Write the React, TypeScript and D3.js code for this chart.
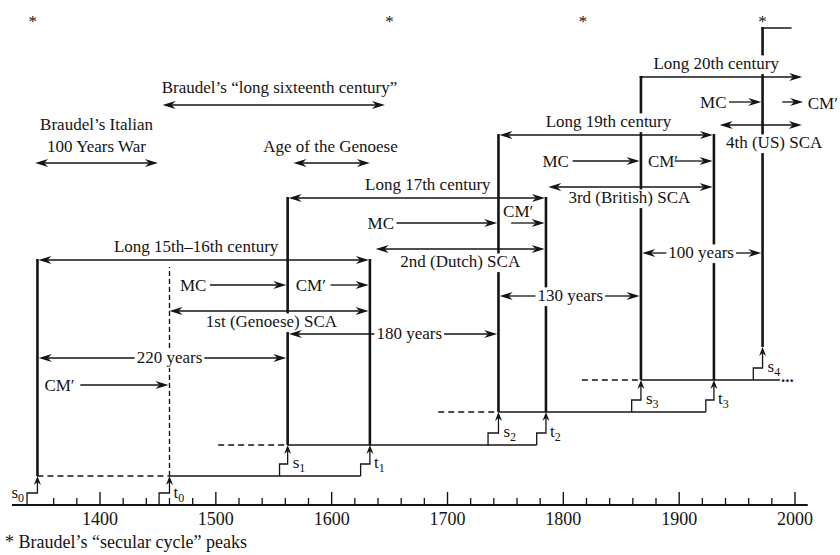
import React, { useEffect, useRef } from "react";
import * as d3 from "d3";

const FONT = "'Liberation Serif', 'Times New Roman', Times, serif";
const INK = "#141414";

// ---- axis ----
const majorTickYears = [1400, 1500, 1600, 1700, 1800, 1900, 2000];
const tickLabels = ["1400", "1500", "1600", "1700", "1800", "1900", "2000"];
const minorTickYears = [1360, 1380, 1420, 1440, 1460, 1480, 1520, 1540, 1560, 1580, 1620, 1640, 1660, 1680, 1720, 1740, 1760, 1780, 1820, 1840, 1860, 1880, 1920, 1940, 1960, 1980];
const axisExtent = [1324, 2011];

// ---- Braudel's secular cycle peaks ----
const starYears = [1342, 1650, 1817, 1972];

// ---- signal (s) and terminal (t) crises ----
const sYears = [1346, 1562, 1744, 1867, 1972];
const sStepStart = [1337, 1555, 1735, 1859, 1964];
const sIndex = ["0", "1", "2", "3", "4"];
const tYears = [1460, 1633, 1785, 1930];
const tStepStart = [1451, 1625, 1777, 1923];
const tIndex = ["0", "1", "2", "3"];
const levelHeights = [0, 29, 60, 93, 125, 158];
const sTops = [245, 307, 370, 428, 477];
const tTops = [238, 245, 307, 370];
const topRightEnd = 1997;

// ---- baselines of levels 1..4 ----
const dashedFrom = [1346, 1502, 1692, 1816];
const dashedTo = [1460, 1562, 1744, 1867];
const solidTo = [1625, 1777, 1923, 1987];

// ---- long centuries ----
const longLabels = ["Long 15th\u201316th century", "Long 17th century", "Long 19th century", "Long 20th century"];
const longFrom = [1346, 1562, 1744, 1867];
const longTo = [1633, 1785, 1930, 2007];
const longHeights = [245, 307, 370, 428];
const longTextAt = [1483, 1683, 1839, 1932];
const longLeftHead = [true, true, true, false];

// ---- MC / CM' phases ----
const mcTextAt = [1469, 1631, 1782, 1918];
const mcArrowFrom = [1495, 1656, 1808, 1943];
const mcArrowTo = [1562, 1744, 1867, 1972];
const phaseHeights = [220, 282, 344, 403];
const cmTextAt = [1569, 1748, 1873, 2011];
const cmTextHeights = [214, 288, 338, 396];
const cmArrowFrom = [1599, 1755, 1896, 1989];
const cmArrowTo = [1633, 1785, 1930, 2007];
const preCmTextAt = 1352;
const preCmArrow = [1383, 1460];
const preCmHeight = 120;

// ---- systemic cycles of accumulation ----
const scaLabels = ["1st (Genoese) SCA", "2nd (Dutch) SCA", "3rd (British) SCA", "4th (US) SCA"];
const scaFrom = [1460, 1638, 1787, 1935];
const scaTo = [1633, 1785, 1930, 2007];
const scaHeights = [194, 256, 318, 380];
const scaTextAt = [1548, 1711, 1857, 1982];
const scaTextHeights = [178, 238, 302, 357];

// ---- spans between signal crises ----
const spanLabels = ["220 years", "180 years", "130 years", "100 years"];
const spanHeights = [147, 171, 209, 252];
const spanTextAt = [1460, 1667, 1806, 1919];

// ---- Braudel's periods ----
const braudelLabels = [["Braudel\u2019s \u201clong sixteenth century\u201d"], ["Braudel\u2019s Italian", "100 Years War"], ["Age of the Genoese"]];
const braudelFrom = [1454, 1344, 1567];
const braudelTo = [1646, 1450, 1633];
const braudelHeights = [400, 342, 342];
const braudelTextAt = [1555, 1397, 1599];
const braudelTextHeights = [[412], [375, 353], [353]];

export default function App() {
  const ref = useRef<SVGSVGElement>(null);

  useEffect(() => {
    const el = ref.current;
    if (!el) return;
    const svg = d3.select(el);
    svg.selectAll("*").remove();

    const x = d3.scaleLinear().domain([1400, 2000]).range([100, 795]);
    const y = d3.scaleLinear().domain([0, 500]).range([505, 5]);

    const gLines = svg.append("g");
    const gBg = svg.append("g");
    const gThin = svg.append("g");
    const gText = svg.append("g").attr("font-family", FONT).attr("fill", INK);

    const seg = (g: any, x1: number, y1: number, x2: number, y2: number, w: number, dash?: string) =>
      g.append("line").attr("x1", x1).attr("y1", y1).attr("x2", x2).attr("y2", y2)
        .attr("stroke", INK).attr("stroke-width", w).attr("stroke-dasharray", dash ?? null);
    const poly = (g: any, pts: number[][], w: number) =>
      g.append("path").attr("d", d3.line()(pts as any)).attr("fill", "none").attr("stroke", INK).attr("stroke-width", w);
    const head = (g: any, tx: number, ty: number, dx: number, dy: number, L: number, hw: number, n: number) => {
      const px = -dy, py = dx;
      const d = `M${tx},${ty}L${tx - L * dx + hw * px},${ty - L * dy + hw * py}L${tx - n * dx},${ty - n * dy}L${tx - L * dx - hw * px},${ty - L * dy - hw * py}Z`;
      g.append("path").attr("d", d).attr("fill", INK);
    };
    const HL = 13, HW = 4, HN = 9;
    const hArrow = (x1: number, x2: number, yy: number, left: boolean, right: boolean) => {
      seg(gThin, x1 + (left ? HN : 0), yy, x2 - (right ? HN : 0), yy, 1.3);
      if (left) head(gThin, x1, yy, -1, 0, HL, HW, HN);
      if (right) head(gThin, x2, yy, 1, 0, HL, HW, HN);
    };
    const txt = (str: string, xx: number, yy: number, anchor: string, size = 17, bg = false) => {
      const t = gText.append("text").attr("x", xx).attr("y", yy).attr("text-anchor", anchor)
        .attr("font-size", size).text(str);
      const bb = (t.node() as SVGTextElement).getBBox();
      if (bg) {
        gBg.append("rect").attr("x", bb.x - 2).attr("y", yy - size * 0.8).attr("width", bb.width + 4)
          .attr("height", size * 1.1).attr("fill", "#fff");
      }
      return bb;
    };

    // ---- axis ----
    seg(gLines, x(axisExtent[0]), y(0), x(axisExtent[1]), y(0), 2);
    minorTickYears.forEach((yr) => seg(gLines, x(yr), y(0), x(yr), y(0) - 7, 1.3));
    majorTickYears.forEach((yr, i) => {
      seg(gLines, x(yr), y(0), x(yr), y(0) - 13, 1.4);
      txt(tickLabels[i], x(yr), y(0) + 20, "middle", 18);
    });
    gText.append("text").attr("x", 5).attr("y", 548).attr("font-size", 18)
      .text("* Braudel\u2019s \u201csecular cycle\u201d peaks");

    // ---- stars ----
    starYears.forEach((yr) => txt("*", x(yr), 27, "middle", 17));

    // ---- baselines ----
    dashedFrom.forEach((d0, i) => {
      const yy = y(levelHeights[i + 1]);
      seg(gLines, x(d0), yy, x(dashedTo[i]), yy, 1.5, "6,4");
      seg(gLines, x(dashedTo[i]), yy, x(solidTo[i]), yy, 1.5);
    });
    gText.append("text").attr("x", x(solidTo[3]) + 1).attr("y", y(levelHeights[4]) + 1.5)
      .attr("font-size", 17).attr("font-weight", "bold").text("...");

    // ---- steps & verticals ----
    const STEP_RISE = 12;
    const step = (start: number, ev: number, lvl: number) => {
      const y0 = y(levelHeights[lvl]);
      const y1 = y(levelHeights[lvl] + STEP_RISE);
      const y2 = y(levelHeights[lvl + 1]);
      poly(gLines, [[x(start), y0], [x(start), y1], [x(ev), y1], [x(ev), y2 + 6]], 1.3);
      head(gLines, x(ev), y2, 0, -1, 9, 3.5, 6);
    };
    sYears.forEach((ev, i) => {
      step(sStepStart[i], ev, i);
      seg(gLines, x(ev), y(levelHeights[i + 1]), x(ev), y(sTops[i]) - 1, 2.6);
    });
    tYears.forEach((ev, i) => {
      step(tStepStart[i], ev, i);
      if (i === 0) seg(gLines, x(ev), y(levelHeights[1]), x(ev), y(tTops[0]), 1.4, "5,3");
      else seg(gLines, x(ev), y(levelHeights[i + 1]), x(ev), y(tTops[i]) - 1, 2.6);
    });
    // top-right corner of the US cycle
    seg(gLines, x(sYears[4]) - 1.3, y(sTops[4]), x(topRightEnd), y(sTops[4]), 1.5);

    // s / t labels
    const subLabel = (letter: string, idx: string, xx: number, yy: number, anchor: string) => {
      const t = gText.append("text").attr("x", xx).attr("y", yy).attr("font-size", 17).attr("text-anchor", anchor);
      t.append("tspan").text(letter);
      t.append("tspan").attr("dy", 4).attr("font-size", 12).text(idx);
    };
    sYears.forEach((ev, i) => {
      if (i === 0) subLabel("s", sIndex[i], x(sStepStart[0]) - 3, y(levelHeights[0]) - 7, "end");
      else subLabel("s", sIndex[i], x(ev) + 5, y(levelHeights[i]) - 8, "start");
    });
    tYears.forEach((ev, i) => subLabel("t", tIndex[i], x(ev) + 4, y(levelHeights[i]) - (i === 0 ? 7 : 8), "start"));

    // ---- long centuries ----
    longLabels.forEach((lab, i) => {
      const yy = y(longHeights[i]);
      if (!longLeftHead[i]) seg(gThin, x(longFrom[i]) - 1.3, yy, x(longFrom[i]) + 2, yy, 1.5);
      hArrow(x(longFrom[i]) + 1, x(longTo[i]) - 1, yy, longLeftHead[i], true);
      txt(lab, x(longTextAt[i]), yy - 8, "middle", 17, true);
    });

    // ---- MC / CM' ----
    mcTextAt.forEach((m, i) => {
      const yy = y(phaseHeights[i]);
      txt("MC", x(m), yy + 6, "start", 17);
      hArrow(x(mcArrowFrom[i]), x(mcArrowTo[i]) - 1.3, yy, false, true);
      txt("CM\u2032", x(cmTextAt[i]), y(cmTextHeights[i]), "start", 17);
      hArrow(x(cmArrowFrom[i]), x(cmArrowTo[i]) - (i === 3 ? 0 : 1.3), yy, false, true);
    });
    txt("CM\u2032", x(preCmTextAt), y(preCmHeight) + 6, "start", 17);
    hArrow(x(preCmArrow[0]), x(preCmArrow[1]) - 1, y(preCmHeight), false, true);

    // ---- SCAs ----
    scaLabels.forEach((lab, i) => {
      const yy = y(scaHeights[i]);
      hArrow(x(scaFrom[i]), x(scaTo[i]) - 1.3, yy, true, true);
      txt(lab, x(scaTextAt[i]), y(scaTextHeights[i]), "middle", 17, true);
    });

    // ---- spans ----
    spanLabels.forEach((lab, i) => {
      const yy = y(spanHeights[i]);
      const bb = txt(lab, x(spanTextAt[i]), yy + 5, "middle", 17, true);
      const a = x(sYears[i]) + 1.3, b = x(sYears[i + 1]) - 1.3;
      seg(gThin, a + HN, yy, bb.x - 2, yy, 1.3);
      seg(gThin, bb.x + bb.width + 2, yy, b - HN, yy, 1.3);
      head(gThin, a, yy, -1, 0, HL, HW, HN);
      head(gThin, b, yy, 1, 0, HL, HW, HN);
    });

    // ---- Braudel ----
    braudelLabels.forEach((lines, i) => {
      hArrow(x(braudelFrom[i]), x(braudelTo[i]), y(braudelHeights[i]), true, true);
      lines.forEach((ln, j) => txt(ln, x(braudelTextAt[i]), y(braudelTextHeights[i][j]), "middle", 17));
    });
  }, []);

  return (
    <svg
      ref={ref}
      width={840}
      height={555}
      style={{ position: "absolute", left: 0, top: 0, background: "#fff", display: "block" }}
    />
  );
}
